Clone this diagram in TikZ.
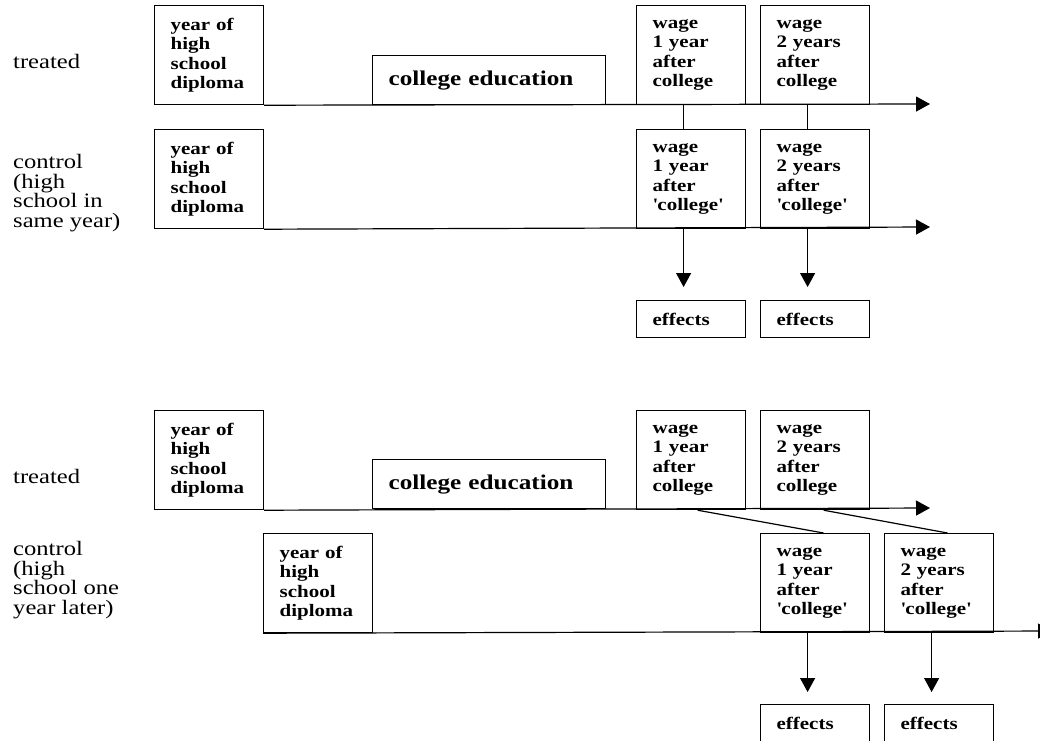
\documentclass[tikz,border=0pt]{standalone}
\usepackage{fontspec}
\newfontfamily\lsr{Liberation Serif}[FakeStretch=1.2]
\usetikzlibrary{arrows.meta,calc}
\tikzset{
  bx/.style={draw, line width=1.2pt, anchor=north west, inner xsep=16pt, inner ysep=0pt,
    align=left, font=\lsr\bfseries\fontsize{17.5}{19.5}\selectfont},
  tall/.style={bx, text width=77pt, minimum height=99pt},
  eff/.style={bx, text width=77pt, minimum height=37pt},
  coll/.style={bx, text width=201pt, minimum height=49pt,
    font=\lsr\bfseries\fontsize{21}{22}\selectfont},
  lab/.style={anchor=north west, inner sep=0pt, align=left,
    font=\lsr\fontsize{20.5}{19.7}\selectfont},
  tlab/.style={anchor=base west, inner sep=0pt, font=\lsr\fontsize{20.5}{19.7}\selectfont},
  ln/.style={line width=1.2pt},
  arr/.style={ln, -{Triangle[length=14pt,width=15pt]}},
}
\newcommand{\q}{\textquotesingle}
\begin{document}
\begin{tikzpicture}[x=1pt,y=-1pt]
\useasboundingbox (0,0) rectangle (1040,740);
\clip (0,0) rectangle (1040,740);

% ---------- upper panel ----------
\node[tlab] (lt1) at (13,68) {treated};
\node[lab] (lc1) at (13,154) {control\\(high\\school in\\same year)};

\node[tall] (td) at (154,5) {year of\\high\\school\\diploma};
\node[coll] (tc) at (372,55) {college education};
\node[tall] (tw1) at (636,5) {wage\\1 year\\after\\college};
\node[tall] (tw2) at (760,5) {wage\\2 years\\after\\college};
\coordinate (tend) at (930,104);
\draw[arr] (td.south east) -- (tend);

\node[tall] (cd) at (154,129) {year of\\high\\school\\diploma};
\node[tall] (cw1) at (636,129) {wage\\1 year\\after\\\q college\q};
\node[tall] (cw2) at (760,129) {wage\\2 years\\after\\\q college\q};
\coordinate (cend) at (930,227);
\draw[arr] (cd.south east) -- (cend);

\draw[ln] ([xshift=-7.5pt]tw1.south) -- ([xshift=-7.5pt]cw1.north);
\draw[ln] ([xshift=-7.5pt]tw2.south) -- ([xshift=-7.5pt]cw2.north);

\node[eff] (e1) at (636,300) {effects};
\node[eff] (e2) at (760,300) {effects};
\draw[arr, shorten >=13pt] ([xshift=-7.5pt]cw1.south) -- ([xshift=-7.5pt]e1.north);
\draw[arr, shorten >=13pt] ([xshift=-7.5pt]cw2.south) -- ([xshift=-7.5pt]e2.north);

% ---------- lower panel ----------
\node[tlab] (lt2) at (13,483) {treated};
\node[lab] (lc2) at (13,541) {control\\(high\\school one\\year later)};

\node[tall] (bd) at (154,410) {year of\\high\\school\\diploma};
\node[coll] (bc) at (372,459) {college education};
\node[tall] (bw1) at (636,410) {wage\\1 year\\after\\college};
\node[tall] (bw2) at (760,410) {wage\\2 years\\after\\college};
\coordinate (bend) at (930,508);
\draw[arr] (bd.south east) -- (bend);

\node[tall] (bcd) at (263,533) {year of\\high\\school\\diploma};
\node[tall] (bcw1) at (760,533) {wage\\1 year\\after\\\q college\q};
\node[tall] (bcw2) at (884,533) {wage\\2 years\\after\\\q college\q};
\coordinate (bcend) at (1052,631);
\draw[arr] (bcd.south west) -- (bcend);

\draw[ln] ([xshift=6.5pt]bw1.south) -- ([xshift=8.5pt]bcw1.north);
\draw[ln] ([xshift=8.5pt]bw2.south) -- ([xshift=8.5pt]bcw2.north);

\node[eff] (be1) at (760,704) {effects};
\node[eff] (be2) at (884,704) {effects};
\draw[arr, shorten >=12pt] ([xshift=-7.5pt]bcw1.south) -- ([xshift=-7.5pt]be1.north);
\draw[arr, shorten >=12pt] ([xshift=-7.5pt]bcw2.south) -- ([xshift=-7.5pt]be2.north);
\end{tikzpicture}
\end{document}
